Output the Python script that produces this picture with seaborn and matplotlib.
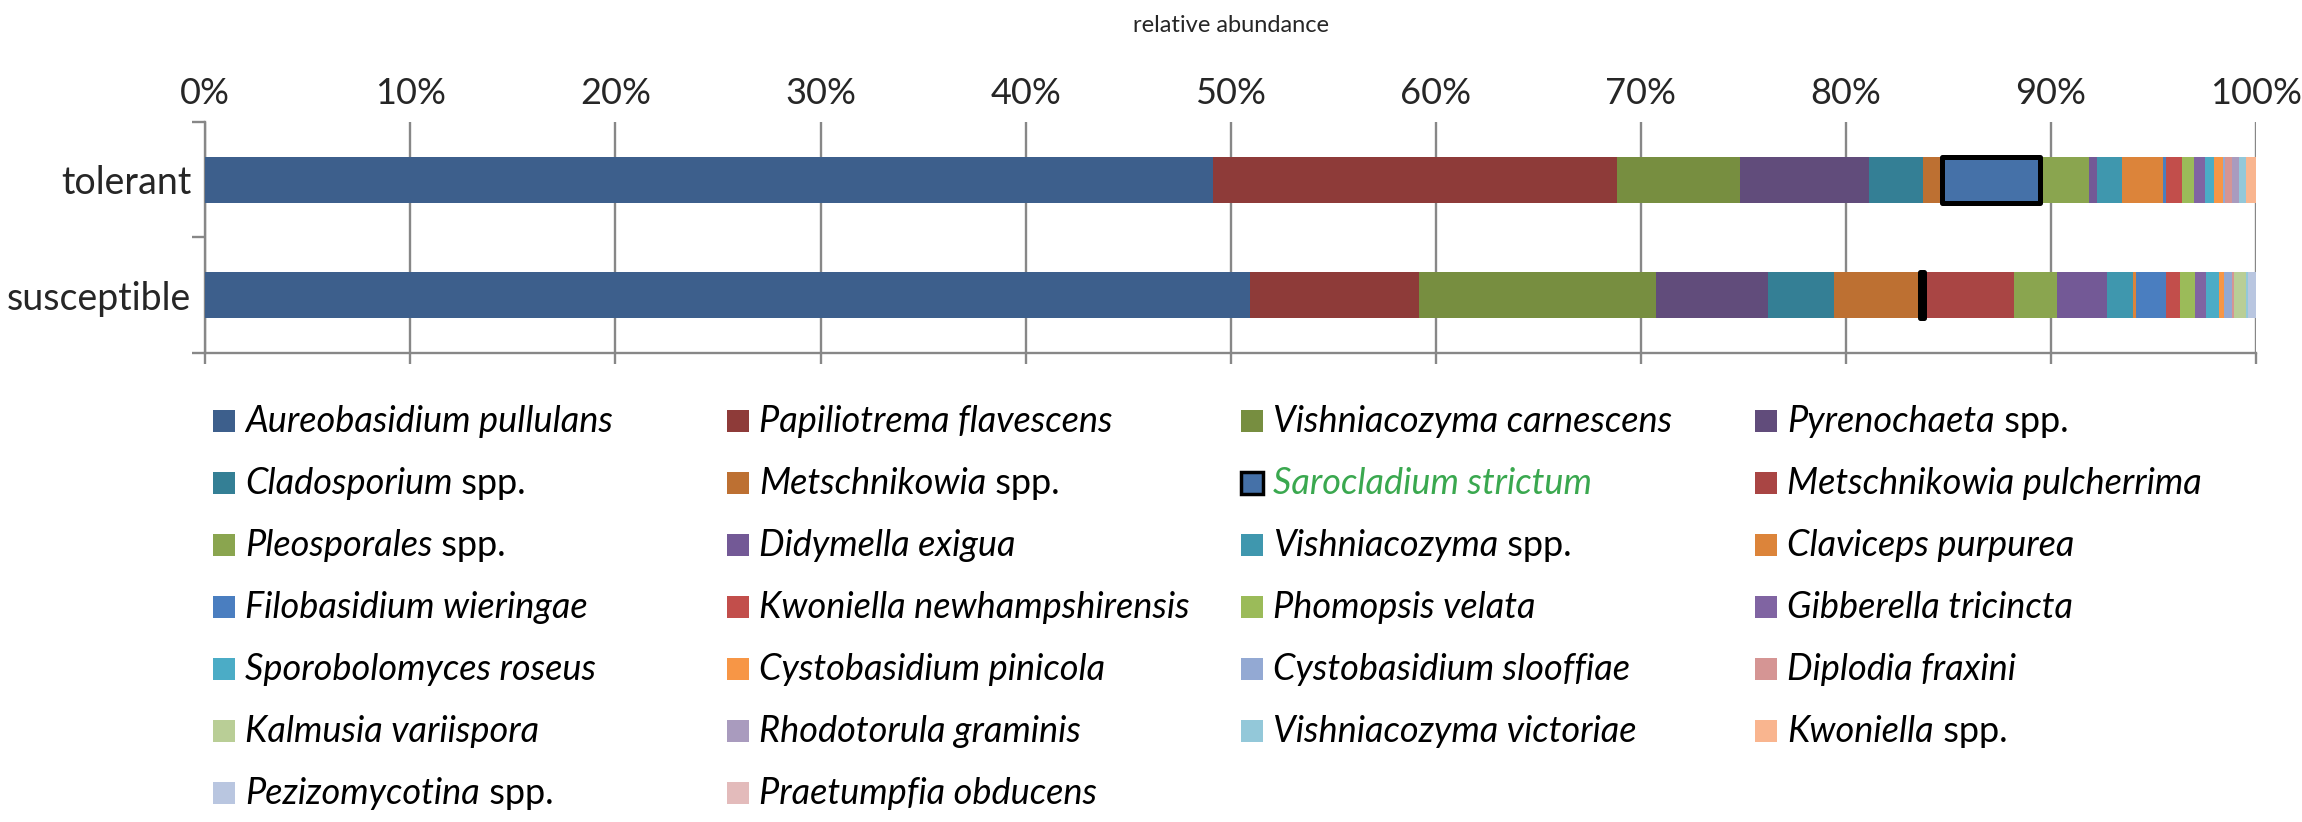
import matplotlib
matplotlib.use("Agg")
import matplotlib.pyplot as plt
from matplotlib.patches import Rectangle
import seaborn as sns
import pandas as pd

# groups (bars, top to bottom)
groups = ["tolerant", "susceptible"]

species = [
    "Aureobasidium pullulans", "Papiliotrema flavescens", "Vishniacozyma carnescens", "Pyrenochaeta spp.",
    "Cladosporium spp.", "Metschnikowia spp.", "Sarocladium strictum", "Metschnikowia pulcherrima",
    "Pleosporales spp.", "Didymella exigua", "Vishniacozyma spp.", "Claviceps purpurea",
    "Filobasidium wieringae", "Kwoniella newhampshirensis", "Phomopsis velata", "Gibberella tricincta",
    "Sporobolomyces roseus", "Cystobasidium pinicola", "Cystobasidium slooffiae", "Diplodia fraxini",
    "Kalmusia variispora", "Rhodotorula graminis", "Vishniacozyma victoriae", "Kwoniella spp.",
    "Pezizomycotina spp.", "Praetumpfia obducens",
]

# relative abundance in %
tolerant = [
    49.12, 19.71, 6.02, 6.29,
    2.61, 0.92, 4.80, 0.0,
    2.40, 0.39, 1.22, 1.97,
    0.16, 0.78, 0.60, 0.54,
    0.44, 0.41, 0.10, 0.33,
    0.0, 0.37, 0.33, 0.49,
    0.0, 0.0,
]
susceptible = [
    50.96, 8.22, 11.54, 5.47,
    3.22, 4.20, 0.18, 4.43,
    2.06, 2.44, 1.30, 0.13,
    1.48, 0.68, 0.72, 0.52,
    0.63, 0.26, 0.39, 0.11,
    0.57, 0.0, 0.10, 0.0,
    0.39, 0.0,
]

colors = [
    "#3d5f8c", "#8e3b39", "#778e40", "#614c7b",
    "#347f95", "#bd7032", "#4571a8", "#a94544",
    "#8aa54f", "#735996", "#3f97ae", "#dc843a",
    "#4a7ec0", "#c24e4b", "#9bbb59", "#8064a2",
    "#4bacc6", "#f79646", "#93a9d3", "#d59594",
    "#b9ce96", "#a99bbe", "#93c8d9", "#f9b58f",
    "#b9c6e0", "#e3bbbb",
]

highlight = "Sarocladium strictum"
xticks = list(range(0, 101, 10))
xtick_labels = [f"{t}%" for t in xticks]

sns.set_style("white")
plt.rcParams["font.family"] = ["Lato", "DejaVu Sans"]

W, H = 2302, 822
ax_bottom, ax_top = 352.7, 122
fig = plt.figure(figsize=(W / 100, H / 100), dpi=100)
ax = fig.add_axes([205.3 / W, 1 - ax_bottom / H, (2256 - 205.3) / W, (ax_bottom - ax_top) / H])

grid_c = "#878787"
left = [0.0, 0.0]
for name, c, t, s in zip(species, colors, tolerant, susceptible):
    df = pd.DataFrame({"group": groups, "value": [t, s]})
    if name == highlight:
        # black box drawn above the neighbouring segments
        edge = dict(edgecolor="black", linewidth=3.6, joinstyle="round", zorder=4)
    else:
        edge = dict(linewidth=0, zorder=3)
    sns.barplot(data=df, x="value", y="group", order=groups, orient="y", color=c,
                saturation=1, width=0.4, left=list(left), ax=ax, **edge)
    left = [left[0] + t, left[1] + s]

ax.set_xlim(0, 100)
ax.set_ylim(1.5, -0.5)
ax.set_xticks(xticks, xtick_labels)
ax.set_yticks([0, 1], groups)
ax.set_yticks([-0.5, 0.5, 1.5], minor=True)
ax.grid(axis="x", color=grid_c, linewidth=1.7, zorder=0)
ax.grid(axis="y", visible=False)
ax.set_axisbelow(True)
for sp in ["top", "right"]:
    ax.spines[sp].set_visible(False)
for sp in ["left", "bottom"]:
    ax.spines[sp].set_color(grid_c)
    ax.spines[sp].set_linewidth(1.7)

ax.tick_params(axis="x", top=False, labeltop=True, bottom=True, labelbottom=False,
               length=8, width=1.7, color=grid_c, labelsize=26, pad=0.5)
ax.tick_params(axis="y", which="major", length=0, labelsize=27, pad=10)
ax.tick_params(axis="y", which="minor", left=True, length=9.4, width=1.7, color=grid_c)
ax.set_ylabel("")
ax.set_xlabel("relative abundance", fontsize=17)
ax.xaxis.set_label_position("top")
ax.xaxis.set_label_coords(0.5, (H - 26 - (H - ax_bottom)) / (ax_bottom - ax_top))
ax.xaxis.label.set_va("center")

# legend, 4 columns, filled row by row
col_x = [213, 727, 1241, 1755]
row_y0, row_dy = 421, 62
fs = 26
for i, (name, c) in enumerate(zip(species, colors)):
    r, k = divmod(i, 4)
    x, y = col_x[k], row_y0 + r * row_dy
    ec = "black" if name == highlight else "none"
    fig.add_artist(Rectangle((x / W, 1 - (y + 11) / H), 22 / W, 22 / H, transform=fig.transFigure,
                             facecolor=c, edgecolor=ec, linewidth=2.5))
    txt_c = "#3aa84f" if name == highlight else "black"
    if name.endswith(" spp."):
        genus, suffix = name[:-5], " spp."
    else:
        genus, suffix = name, ""
    t = fig.text((x + 32) / W, 1 - (y + 11) / H, genus, fontsize=fs, fontstyle="italic",
                 color=txt_c, va="baseline", ha="left")
    if suffix:
        ax.annotate(suffix, xy=(1, 0), xycoords=t, va="bottom", ha="left", fontsize=fs,
                    color=txt_c, annotation_clip=False)

fig.savefig("out.png", dpi=100)
